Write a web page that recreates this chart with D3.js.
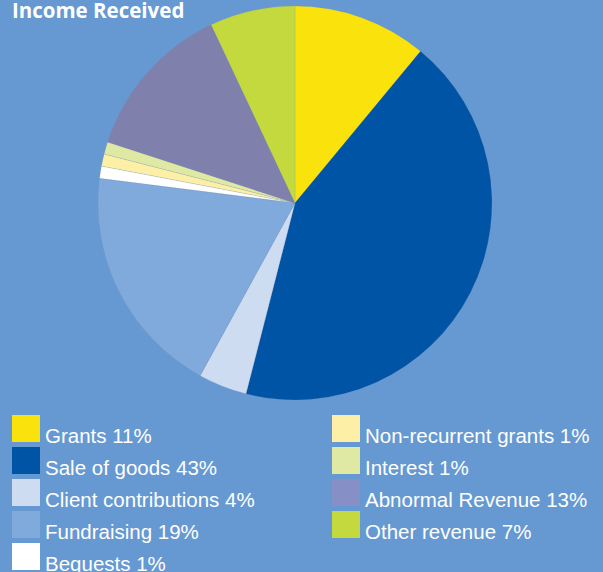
<!DOCTYPE html>
<html>
<head>
<meta charset="utf-8">
<script src="https://cdn.jsdelivr.net/npm/d3@7"></script>
<style>
  html, body { margin: 0; padding: 0; background: #6699d2; }
  svg { display: block; }
</style>
</head>
<body>
<div id="chart"></div>
<script>
(function () {
  const categories = [
    "Grants", "Sale of goods", "Client contributions", "Fundraising", "Bequests",
    "Non-recurrent grants", "Interest", "Abnormal Revenue", "Other revenue"
  ];
  const values = [11, 43, 4, 19, 1, 1, 1, 13, 7];
  const colors = [
    "#fae20c", "#0054a5", "#cddcf1", "#80a9dc", "#ffffff",
    "#fdf0a6", "#dfe9a4", "#8080ad", "#c4d93e"
  ];
  const legendColors = [
    "#fae20c", "#0054a5", "#cddcf1", "#80a9dc", "#ffffff",
    "#fdf0a6", "#dfe9a4", "#8690c7", "#c4d93e"
  ];

  const width = 603;
  const height = 572;
  const cx = 295;
  const cy = 203;
  const radius = 197;

  const svg = d3.select("#chart")
    .append("svg")
    .attr("width", width)
    .attr("height", height)
    .attr("viewBox", `0 0 ${width} ${height}`);

  svg.append("rect")
    .attr("width", width)
    .attr("height", height)
    .attr("fill", "#6699d2");

  // ---------------------------PIE-----------------------------------

  const pie = d3.pie().sort(null).value((d) => d.value);
  const arc = d3.arc().innerRadius(0).outerRadius(radius);

  const data = categories.map((c, i) => ({ name: c, value: values[i], color: colors[i] }));

  svg.append("g")
    .attr("transform", `translate(${cx},${cy})`)
    .selectAll("path")
    .data(pie(data))
    .join("path")
    .attr("d", arc)
    .attr("fill", (d) => d.data.color)
    .attr("stroke", "rgba(120,140,170,0.35)")
    .attr("stroke-width", 0.5);

  // title (top edge is clipped in the original too)
  svg.append("text")
    .attr("x", 12)
    .attr("y", 18)
    .attr("fill", "#ffffff")
    .attr("font-family", "Open Sans, Noto Sans, sans-serif")
    .attr("font-weight", "bold")
    .attr("font-size", "20.5px")
    .text("Income Received");

  // ---------------------------LEGEND-----------------------------------

  const colX = [12, 332];
  const rowY = 415;
  const rowStep = 32;
  const sw = 28;
  const sh = 27;

  const entries = svg.append("g")
    .selectAll("g")
    .data(data)
    .join("g")
    .attr("transform", (d, i) => {
      const col = i < 5 ? 0 : 1;
      const row = i < 5 ? i : i - 5;
      return `translate(${colX[col]},${rowY + row * rowStep})`;
    });

  entries.append("rect")
    .attr("width", sw)
    .attr("height", sh)
    .attr("fill", (d, i) => legendColors[i]);

  entries.append("text")
    .attr("x", sw + 5)
    .attr("y", sh + 1)
    .attr("fill", "#ffffff")
    .attr("font-family", "Liberation Sans, Arial, sans-serif")
    .attr("font-size", "20.5px")
    .text((d) => `${d.name} ${d.value}%`);
})();
</script>
</body>
</html>
